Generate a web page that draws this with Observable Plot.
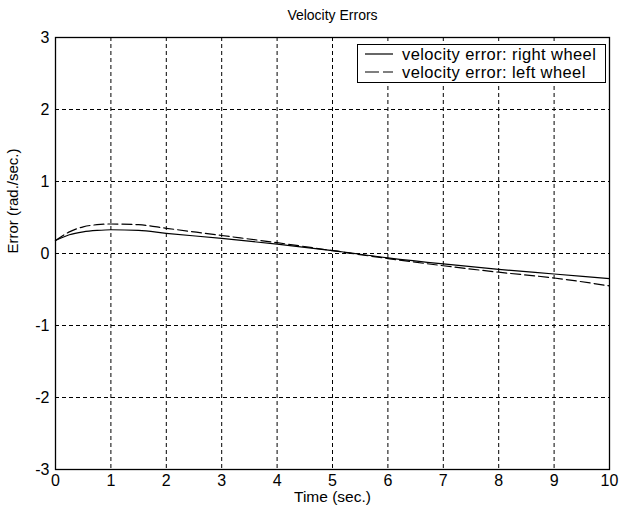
<!DOCTYPE html>
<html>
<head>
<meta charset="utf-8">
<script src="https://cdn.jsdelivr.net/npm/d3@7"></script>
<script src="https://cdn.jsdelivr.net/npm/@observablehq/plot@0.6"></script>
<style>
  body { margin: 0; background: #fff; }
  #wrap { position: relative; width: 620px; height: 515px; font-family: "Liberation Sans", Arial, sans-serif; }
  #wrap svg g[aria-label$="tick label"] { font-size: 16px !important; }
  #legend { position: absolute; left: 357px; top: 44px; width: 247px; height: 37px; border: 1px solid #000; background: #fff; font-size: 16.5px; letter-spacing: 0.4px; }
  .row { position: absolute; left: 0; height: 18px; display: flex; align-items: center; }
  .row svg { margin-left: 7px; margin-right: 9px; }
</style>
</head>
<body>
<div id="wrap"></div>
<script>
const title = "Velocity Errors";
const xLabel = "Time (sec.)";
const yLabel = "Error (rad./sec.)";
const seriesNames = ["velocity error: right wheel", "velocity error: left wheel"];
const time = [0, 0.25, 0.5, 0.75, 1, 1.5, 2, 3, 4, 5, 6, 7, 8, 9, 10];
const rightWheel = [0.18, 0.26, 0.30, 0.32, 0.33, 0.32, 0.28, 0.21, 0.13, 0.04, -0.06, -0.145, -0.22, -0.285, -0.35];
const leftWheel = [0.18, 0.30, 0.37, 0.40, 0.41, 0.40, 0.35, 0.25, 0.15, 0.04, -0.07, -0.17, -0.26, -0.34, -0.45];
const xTicks = [0, 1, 2, 3, 4, 5, 6, 7, 8, 9, 10];
const yTicks = [-3, -2, -1, 0, 1, 2, 3];

const right = time.map((t, i) => ({t, v: rightWheel[i]}));
const left = time.map((t, i) => ({t, v: leftWheel[i]}));

const font = "Liberation Sans, Arial, sans-serif";
const chart = Plot.plot({
  width: 620,
  height: 515,
  marginLeft: 55,
  marginRight: 11,
  marginTop: 37,
  marginBottom: 46,
  style: {fontFamily: font, fontSize: "16px", color: "#000", background: "#fff"},
  x: {domain: [0, 10]},
  y: {domain: [-3, 3]},
  marks: [
    Plot.gridX(xTicks, {stroke: "#000", strokeOpacity: 1, strokeDasharray: "4,3"}),
    Plot.gridY(yTicks, {stroke: "#000", strokeOpacity: 1, strokeDasharray: "4,3"}),
    Plot.axisX(xTicks, {tickSize: 0, tickPadding: 5, label: null, fill: "#000", tickFormat: d => String(d)}),
    Plot.axisY(yTicks, {tickSize: 0, tickPadding: 6, label: null, fill: "#000", tickFormat: d => String(d)}),
    Plot.line(right, {x: "t", y: "v", stroke: "#000", strokeWidth: 1.2, curve: "monotone-x"}),
    Plot.line(left, {x: "t", y: "v", stroke: "#000", strokeWidth: 1.2, strokeDasharray: "10,4", curve: "monotone-x"}),
    Plot.frame({stroke: "#000", strokeWidth: 1.3}),
    Plot.text([title], {frameAnchor: "top", dy: -27, fontSize: 14, fill: "#000"}),
    Plot.text([xLabel], {frameAnchor: "bottom", dy: 32, fontSize: 15.5, fill: "#000"}),
    Plot.text([yLabel], {frameAnchor: "left", dx: -42, rotate: -90, fontSize: 15, fill: "#000"}),
  ]
});
const wrap = document.getElementById("wrap");
wrap.appendChild(chart);

const legend = document.createElement("div");
legend.id = "legend";
seriesNames.forEach((name, i) => {
  const row = document.createElement("div");
  row.className = "row";
  row.style.top = (i === 0 ? 0 : 18) + "px";
  row.innerHTML = `<svg width="28" height="4"><line x1="0" x2="28" y1="2" y2="2" stroke="#000" stroke-width="1.2" ${i === 1 ? 'stroke-dasharray="14,4"' : ''}/></svg><span>${name}</span>`;
  legend.appendChild(row);
});
wrap.appendChild(legend);
</script>
</body>
</html>
